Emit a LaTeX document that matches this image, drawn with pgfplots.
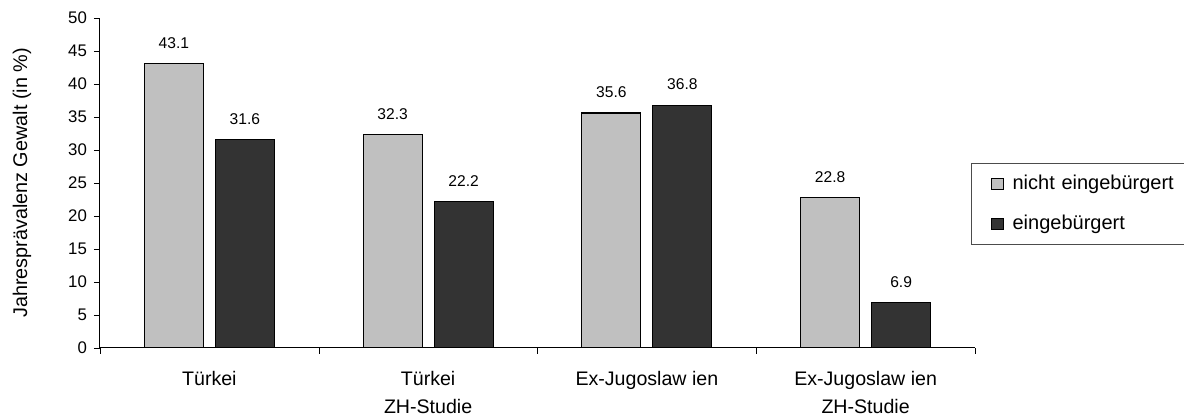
\documentclass[border=0pt]{standalone}
\usepackage{pgfplots}
\pgfplotsset{compat=1.18}
\usepackage{fontspec}
\setmainfont{Liberation Sans}
\definecolor{lgray}{HTML}{C0C0C0}
\definecolor{dgray}{HTML}{333333}
\pgfplotsset{/pgf/number format/assume math mode=true}
\begin{document}
\begin{tikzpicture}
\path[use as bounding box] (-50pt,-34pt) rectangle (542pt,174pt);
\begin{axis}[
  at={(0,0)}, anchor=south west,
  scale only axis, width=437.5pt, height=165pt,
  xmin=-0.5, xmax=3.5, ymin=0, ymax=50,
  ybar=6pt, bar width=29.5pt,
  axis x line*=bottom, axis y line*=left,
  axis line style={black, line width=0.5pt},
  ytick={0,5,...,50},
  tick align=outside,
  major tick length=3pt,
  minor tick length=3pt,
  xtick={0,1,2,3},
  xticklabels={Türkei, Türkei\\ZH-Studie, Ex-Jugoslaw ien, Ex-Jugoslaw ien\\ZH-Studie},
  x tick label style={align=center, font=\fontsize{9.8}{14}\selectfont, yshift=-5pt},
  y tick label style={font=\fontsize{8.4}{9}\selectfont},
  xtick style={draw=none},
  minor xtick={-0.5,0.5,1.5,2.5,3.5},
  minor x tick style={draw=black},
  ytick style={black},
  ylabel={Jahresprävalenz Gewalt (in \%)},
  ylabel style={at={(axis description cs:-0.089,0.5)}, anchor=center, font=\fontsize{9.9}{11}\selectfont},
  legend style={at={(rel axis cs:0.995,0.5606)}, anchor=north west, draw=black!70,
    font=\fontsize{10}{11}\selectfont, row sep=7pt, inner xsep=10pt, inner ysep=4pt,
    text width=100pt, cells={anchor=west}},
  legend image code/.code={\draw[#1, line width=0.5pt] (0pt,-2.7pt) rectangle (5.8pt,2.7pt);},
  nodes near coords,
  every node near coord/.append style={font=\fontsize{7.8}{9}\selectfont, yshift=4pt, black},
]
\addplot[fill=lgray, draw=black, line width=0.6pt]
  coordinates {(0,43.1) (1,32.3) (2,35.6) (3,22.8)};
\addlegendentry{\hspace{2.5pt}nicht eingebürgert}
\addplot[fill=dgray, draw=black, line width=0.6pt]
  coordinates {(0,31.6) (1,22.2) (2,36.8) (3,6.9)};
\addlegendentry{\hspace{2.5pt}eingebürgert}
\end{axis}
\end{tikzpicture}
\end{document}
